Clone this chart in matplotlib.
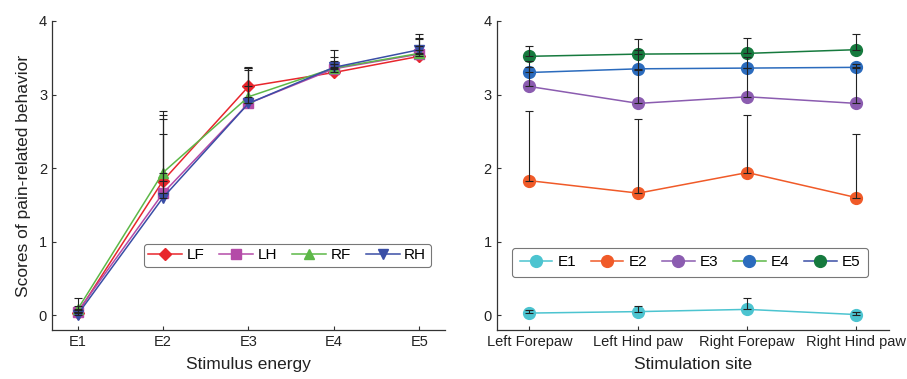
import numpy as np
import matplotlib
matplotlib.use("Agg")
import matplotlib.pyplot as plt
from matplotlib.lines import Line2D

plt.rcParams['font.family'] = ['Liberation Sans', 'DejaVu Sans']

energies = ['E1', 'E2', 'E3', 'E4', 'E5']
sites = ['Left Forepaw', 'Left Hind paw', 'Right Forepaw', 'Right Hind paw']
site_keys = ['LF', 'LH', 'RF', 'RH']

# mean scores per site across energies E1..E5
mean_LF = [0.03, 1.83, 3.11, 3.30, 3.52]
mean_LH = [0.05, 1.66, 2.88, 3.35, 3.55]
mean_RF = [0.08, 1.94, 2.97, 3.36, 3.56]
mean_RH = [0.01, 1.60, 2.88, 3.37, 3.61]
# upper error bar tops
top_LF = [0.07, 2.78, 3.37, 3.45, 3.66]
top_LH = [0.12, 2.67, 3.34, 3.60, 3.75]
top_RF = [0.23, 2.72, 3.36, 3.51, 3.77]
top_RH = [0.05, 2.47, 3.36, 3.42, 3.83]

means = [mean_LF, mean_LH, mean_RF, mean_RH]
tops = [top_LF, top_LH, top_RF, top_RH]

site_colors = ['#e8262c', '#b44ba8', '#5db848', '#3a4ea6']
site_markers = ['D', 's', '^', 'v']
energy_colors = ['#4cc4d0', '#f05a28', '#8b5cb0', '#2b6bbd', '#167a3e']

fig = plt.figure(figsize=(9.07, 3.79), dpi=100)
ax1 = fig.add_axes([0.0573, 0.1293, 0.4333, 0.8153])
ax2 = fig.add_axes([0.5476, 0.1293, 0.4325, 0.8153])

axis_col = '#333333'

x1 = np.arange(1, len(energies) + 1)
for m, t, c, mk, k in zip(means, tops, site_colors, site_markers, site_keys):
    m = np.array(m); t = np.array(t)
    ax1.plot(x1, m, color=c, marker=mk, markersize=7.5 if mk != 'D' else 6.5,
             lw=1.1, label=k, zorder=3)
for m, t in zip(means, tops):
    m = np.array(m); t = np.array(t)
    ax1.errorbar(x1, m, yerr=[np.zeros_like(m), t - m], fmt='none',
                 ecolor='#222222', elinewidth=0.8, capsize=3, capthick=0.8, zorder=4)

ax1.set_xlim(0.7, 5.3)
ax1.set_ylim(-0.2, 4)
ax1.set_xticks(x1)
ax1.set_xticklabels(energies)
ax1.set_yticks([0, 1, 2, 3, 4])
ax1.set_xlabel('Stimulus energy', fontsize=12.5, color='#222222', labelpad=6)
ax1.set_ylabel('Scores of pain-related behavior', fontsize=12.5, color='#222222', labelpad=6)
leg1 = ax1.legend(loc='lower right', bbox_to_anchor=(0.964, 0.204), ncol=4, fontsize=11,
                  frameon=True, fancybox=True, edgecolor='#555555', handlelength=2.2,
                  handletextpad=0.3, columnspacing=1.0, borderpad=0.3, borderaxespad=0)
leg1.get_frame().set_linewidth(0.8)

x2 = np.arange(1, len(sites) + 1)
by_energy = np.array(means).T
tops_by_energy = np.array(tops).T
for i, e in enumerate(energies):
    ax2.plot(x2, by_energy[i], color=energy_colors[i], marker='o', markersize=8.5,
             lw=1.1, zorder=3)
for i, e in enumerate(energies):
    m = by_energy[i]; t = tops_by_energy[i]
    ax2.errorbar(x2, m, yerr=[np.zeros_like(m), t - m], fmt='none',
                 ecolor='#222222', elinewidth=0.8, capsize=3, capthick=0.8, zorder=4)

# legend as shown in the reference (E4/E5 line colours swapped there)
leg_line_colors = [energy_colors[0], energy_colors[1], energy_colors[2], '#5db848', '#3a4ea6']
handles = [Line2D([], [], color=lc, marker='o', markersize=8.5, markerfacecolor=mc,
                  markeredgecolor=mc, lw=1.1)
           for lc, mc in zip(leg_line_colors, energy_colors)]
leg2 = ax2.legend(handles, energies, loc='lower left', bbox_to_anchor=(0.039, 0.172), ncol=5,
                  fontsize=11, frameon=True, fancybox=True, edgecolor='#555555',
                  handlelength=2.15, handletextpad=0.33, columnspacing=0.95, borderpad=0.5,
                  borderaxespad=0)
leg2.get_frame().set_linewidth(0.8)

ax2.set_xlim(0.7, 4.3)
ax2.set_ylim(-0.2, 4)
ax2.set_xticks(x2)
ax2.set_xticklabels(sites)
ax2.set_yticks([0, 1, 2, 3, 4])
ax2.set_xlabel('Stimulation site', fontsize=12.5, color='#222222', labelpad=6)

for ax in (ax1, ax2):
    for s in ('top', 'right'):
        ax.spines[s].set_visible(False)
    for s in ('left', 'bottom'):
        ax.spines[s].set_color(axis_col)
        ax.spines[s].set_linewidth(0.9)
    ax.tick_params(direction='in', length=3, width=0.8, colors=axis_col,
                   labelsize=10.5, labelcolor='#222222')

fig.savefig('out.png', dpi=100)
